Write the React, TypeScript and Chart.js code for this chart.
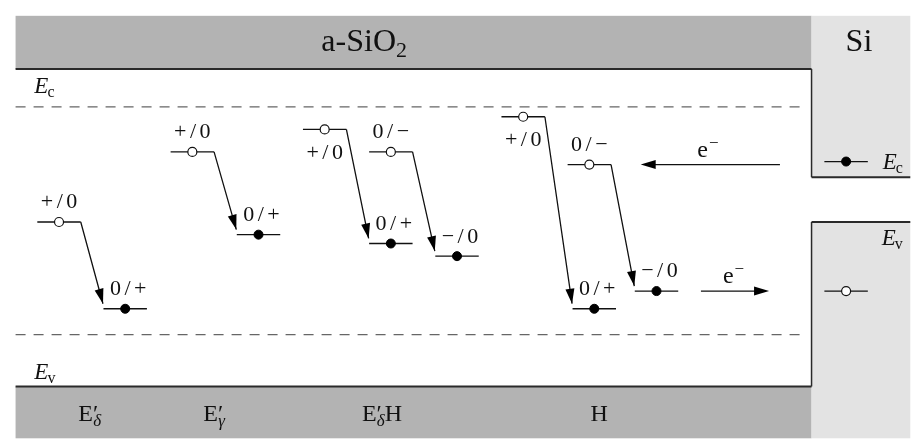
import React, { useEffect, useRef } from "react";
import { Chart, registerables } from "chart.js";
Chart.register(...registerables);

// ---- data (x: lateral position units, y: energy in eV above oxide Ev) ----
const oxideEc = 9.0;
const oxideEv = 0.0;
const siEcLevel = 6.84;
const siEvLevel = 1.72;

const defectNames = ["E′δ", "E′γ", "E′δH", "H"];
const defectNameX = [8.5, 21.1, 38.1, 60.1];

const upperX = [3.2, 16.7, 30.1, 36.8, 50.2, 56.9];
const lowerX = [9.9, 23.4, 36.8, 43.5, 57.4, 63.7];
const upperE = [4.45, 7.22, 8.11, 7.22, 8.61, 6.72];
const lowerE = [1.02, 3.95, 3.6, 3.1, 1.02, 1.72];
const upperLabels = ["+/0", "+/0", "+/0", "0/−", "+/0", "0/−"];
const lowerLabels = ["0/+", "0/+", "0/+", "−/0", "0/+", "−/0"];
const upperLabelBelow = [false, false, true, false, true, false];

const siLevelX = 82.9;
const electronInX = [78.4, 64.3];
const electronOutX = [70.4, 77.3];

// region bounds
const frameTop = 12.6;
const frameBottom = -4.1;
const oxideLeft = 1.0;
const interfaceX = 81.6;
const siRight = 91.6;
const oxideCapTop = 10.5;
const oxideCapBottom = -2.05;
const siEcBoxBottom = 6.22;
const siEvBoxTop = 4.45;

const LW = 4.4; // level length
const SERIF = "'Liberation Serif'";

type Run = { t: string; font: string; dx?: number; dy?: number };

function drawRuns(ctx: CanvasRenderingContext2D, runs: Run[], x: number, y: number, align: "left" | "center") {
  const widths = runs.map((r) => {
    ctx.font = r.font;
    return ctx.measureText(r.t).width;
  });
  let total = 0;
  runs.forEach((r, i) => (total += widths[i] + (r.dx || 0)));
  let cx = align === "center" ? x - total / 2 : x;
  ctx.textAlign = "left";
  ctx.textBaseline = "alphabetic";
  runs.forEach((r, i) => {
    cx += r.dx || 0;
    ctx.font = r.font;
    ctx.fillText(r.t, cx, y + (r.dy || 0));
    cx += widths[i];
  });
}

function chargeRuns(label: string): Run[] {
  return [...label].map((c, i) => ({ t: c, font: `22px ${SERIF}`, dx: i ? 3.5 : 0 }));
}

function arrowHead(ctx: CanvasRenderingContext2D, x0: number, y0: number, x1: number, y1: number) {
  const L = 15, Wd = 4.5;
  const a = Math.atan2(y1 - y0, x1 - x0);
  const c = Math.cos(a), s = Math.sin(a);
  ctx.beginPath();
  ctx.moveTo(x1, y1);
  ctx.lineTo(x1 - L * c - Wd * s, y1 - L * s + Wd * c);
  ctx.lineTo(x1 - L * c + Wd * s, y1 - L * s - Wd * c);
  ctx.closePath();
  ctx.fill();
}

const diagramPlugin = {
  id: "diagram",
  beforeDatasetsDraw(chart: any) {
    const { ctx, scales } = chart;
    const px = (v: number) => scales.x.getPixelForValue(v);
    const py = (v: number) => scales.y.getPixelForValue(v);
    ctx.save();
    ctx.fillStyle = "#b3b3b3";
    ctx.fillRect(px(oxideLeft), py(frameTop), px(interfaceX) - px(oxideLeft), py(oxideCapTop) - py(frameTop));
    ctx.fillRect(px(oxideLeft), py(oxideCapBottom), px(interfaceX) - px(oxideLeft), py(frameBottom) - py(oxideCapBottom));
    ctx.fillStyle = "#e3e3e3";
    ctx.fillRect(px(interfaceX), py(frameTop), px(siRight) - px(interfaceX), py(siEcBoxBottom) - py(frameTop));
    ctx.fillRect(px(interfaceX), py(siEvBoxTop), px(siRight) - px(interfaceX), py(frameBottom) - py(siEvBoxTop));
    ctx.strokeStyle = "#2a2a2a";
    ctx.lineWidth = 2;
    ctx.beginPath();
    ctx.moveTo(px(oxideLeft), py(oxideCapTop));
    ctx.lineTo(px(interfaceX), py(oxideCapTop));
    ctx.moveTo(px(oxideLeft), py(oxideCapBottom));
    ctx.lineTo(px(interfaceX), py(oxideCapBottom));
    ctx.moveTo(px(interfaceX), py(siEcBoxBottom));
    ctx.lineTo(px(siRight), py(siEcBoxBottom));
    ctx.moveTo(px(interfaceX), py(siEvBoxTop));
    ctx.lineTo(px(siRight), py(siEvBoxTop));
    ctx.stroke();
    ctx.lineWidth = 1.5;
    ctx.beginPath();
    ctx.moveTo(px(interfaceX), py(oxideCapTop));
    ctx.lineTo(px(interfaceX), py(siEcBoxBottom));
    ctx.moveTo(px(interfaceX), py(siEvBoxTop));
    ctx.lineTo(px(interfaceX), py(oxideCapBottom));
    ctx.stroke();
    ctx.restore();
  },
  afterDatasetsDraw(chart: any) {
    const { ctx, scales } = chart;
    const px = (v: number) => scales.x.getPixelForValue(v);
    const py = (v: number) => scales.y.getPixelForValue(v);
    ctx.save();
    ctx.fillStyle = "#000";
    upperX.forEach((ux, i) => {
      arrowHead(ctx, px(ux + LW), py(upperE[i]), px(lowerX[i] - 0.05), py(lowerE[i] + 0.2));
    });
    arrowHead(ctx, px(electronInX[0]), py(upperE[5]), px(electronInX[1]), py(upperE[5]));
    arrowHead(ctx, px(electronOutX[0]), py(lowerE[5]), px(electronOutX[1]), py(lowerE[5]));

    ctx.fillStyle = "#111";
    const ePx = 14 / 25.965, eBelow = 30 / 25.965;
    upperX.forEach((ux, i) => {
      const yy = upperLabelBelow[i] ? upperE[i] - eBelow : upperE[i] + ePx;
      drawRuns(ctx, chargeRuns(upperLabels[i]), px(ux + LW / 2), py(yy), "center");
      drawRuns(ctx, chargeRuns(lowerLabels[i]), px(lowerX[i] + LW / 2 + 0.3), py(lowerE[i] + ePx), "center");
    });

    drawRuns(ctx, [{ t: "a-SiO", font: `32px ${SERIF}` }, { t: "2", font: `22px ${SERIF}`, dy: 6 }], px(36.3), py(11.19), "center");
    drawRuns(ctx, [{ t: "Si", font: `32px ${SERIF}` }], px(86.4), py(11.19), "center");

    const Eit = `italic 23px ${SERIF}`;
    const sub = `16px ${SERIF}`;
    drawRuns(ctx, [{ t: "E", font: Eit }, { t: "c", font: sub, dy: 4, dx: -1 }], px(2.9), py(9.53), "left");
    drawRuns(ctx, [{ t: "E", font: Eit }, { t: "v", font: sub, dy: 4, dx: -1 }], px(2.9), py(-1.75), "left");
    drawRuns(ctx, [{ t: "E", font: Eit }, { t: "c", font: sub, dy: 4, dx: -1 }], px(88.8), py(6.53), "left");
    drawRuns(ctx, [{ t: "E", font: Eit }, { t: "v", font: sub, dy: 4, dx: -1 }], px(88.7), py(3.56), "left");

    drawRuns(ctx, [{ t: "e", font: `24px ${SERIF}` }, { t: "−", font: `17px ${SERIF}`, dy: -9, dx: 1 }], px(71.1), py(7.03), "center");
    drawRuns(ctx, [{ t: "e", font: `24px ${SERIF}` }, { t: "−", font: `17px ${SERIF}`, dy: -9, dx: 1 }], px(73.7), py(2.02), "center");

    const F = `24px ${SERIF}`;
    defectNames.forEach((name, i) => {
      let runs: Run[];
      if (name.startsWith("E′")) {
        const sym = name[2];
        runs = [
          { t: "E", font: F },
          { t: "′", font: F, dx: 0 },
          { t: sym, font: `italic 17px ${SERIF}`, dx: -5, dy: 5 },
        ];
        if (name.length > 3) runs.push({ t: name.slice(3), font: F });
      } else {
        runs = [{ t: name, font: F }];
      }
      drawRuns(ctx, runs, px(defectNameX[i]), py(-3.41), "center");
    });
    ctx.restore();
  },
};

export default function App() {
  const ref = useRef<HTMLCanvasElement | null>(null);
  useEffect(() => {
    if (!ref.current) return;
    const gap = { x: NaN, y: null as any };
    const levelPts: any[] = [];
    const arrowPts: any[] = [];
    upperX.forEach((ux, i) => {
      levelPts.push({ x: ux, y: upperE[i] }, { x: ux + LW, y: upperE[i] }, gap);
      levelPts.push({ x: lowerX[i], y: lowerE[i] }, { x: lowerX[i] + LW, y: lowerE[i] }, gap);
      arrowPts.push({ x: ux + LW, y: upperE[i] }, { x: lowerX[i] - 0.05, y: lowerE[i] + 0.2 }, gap);
    });
    levelPts.push({ x: siLevelX, y: siEcLevel }, { x: siLevelX + LW, y: siEcLevel }, gap);
    levelPts.push({ x: siLevelX, y: siEvLevel }, { x: siLevelX + LW, y: siEvLevel }, gap);
    arrowPts.push({ x: electronInX[0], y: upperE[5] }, { x: electronInX[1] + 0.5, y: upperE[5] }, gap);
    arrowPts.push({ x: electronOutX[0], y: lowerE[5] }, { x: electronOutX[1] - 0.5, y: lowerE[5] });

    const openPts = upperX.map((ux, i) => ({ x: ux + LW / 2, y: upperE[i] }));
    openPts.push({ x: siLevelX + LW / 2, y: siEvLevel });
    const filledPts = lowerX.map((lx, i) => ({ x: lx + LW / 2, y: lowerE[i] }));
    filledPts.push({ x: siLevelX + LW / 2, y: siEcLevel });

    const line = (data: any[], extra: any = {}) => ({
      data,
      showLine: true,
      pointRadius: 0,
      borderColor: "#111",
      borderWidth: 1.3,
      spanGaps: false,
      ...extra,
    });

    const chart = new Chart(ref.current, {
      type: "scatter",
      data: {
        datasets: [
          { data: openPts, pointRadius: 4.5, pointBackgroundColor: "#fff", pointBorderColor: "#111", pointBorderWidth: 1.2, order: 0 } as any,
          { data: filledPts, pointRadius: 4.5, pointBackgroundColor: "#000", pointBorderColor: "#000", pointBorderWidth: 1, order: 0 } as any,
          line(levelPts, { order: 1 }),
          line(arrowPts, { order: 2 }),
          line([{ x: oxideLeft, y: oxideEc }, { x: 80.8, y: oxideEc }], { borderColor: "#666", borderWidth: 1.3, borderDash: [10, 8], order: 3 }),
          line([{ x: oxideLeft, y: oxideEv }, { x: 80.8, y: oxideEv }], { borderColor: "#666", borderWidth: 1.3, borderDash: [10, 8], order: 3 }),
        ],
      },
      options: {
        animation: false,
        responsive: false,
        maintainAspectRatio: false,
        devicePixelRatio: 1,
        events: [],
        layout: { padding: 0 },
        plugins: { legend: { display: false }, tooltip: { enabled: false } },
        scales: {
          x: { type: "linear", min: 0, max: 91.6, display: false },
          y: { type: "linear", min: -4.1, max: 13.0, display: false },
        },
      },
      plugins: [diagramPlugin],
    });
    return () => chart.destroy();
  }, []);
  return (
    <div style={{ position: "fixed", left: 0, top: 0, width: 916, height: 444, background: "#fff" }}>
      <canvas ref={ref} width={916} height={444} />
    </div>
  );
}
